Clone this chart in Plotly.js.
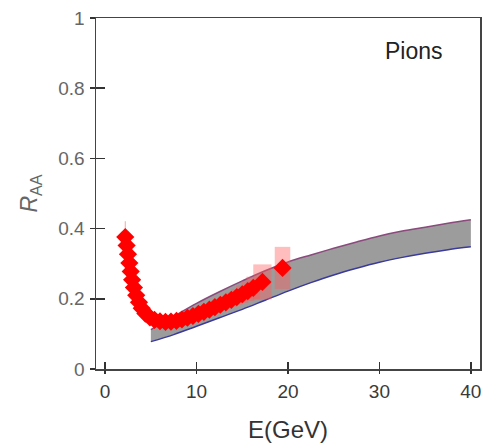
<!DOCTYPE html>
<html>
<head>
<meta charset="utf-8">
<script src="https://cdn.plot.ly/plotly-3.0.1.min.js"></script>
<style>html,body{margin:0;padding:0;background:#fff;}#chart{width:485px;height:448px;}</style>
</head>
<body>
<div id="chart"></div>
<script>
// Theory band (energy in GeV, lower and upper R_AA)
const bandE     = [5, 7.5, 10, 12.5, 15, 17.5, 20, 22.5, 25, 27.5, 30, 32.5, 35, 37.5, 40];
const bandUpper = [0.112, 0.150, 0.187, 0.220, 0.251, 0.280, 0.305, 0.325, 0.344, 0.362, 0.379, 0.393, 0.404, 0.415, 0.425];
const bandLower = [0.078, 0.098, 0.122, 0.146, 0.170, 0.196, 0.222, 0.246, 0.268, 0.287, 0.304, 0.318, 0.330, 0.340, 0.348];

// Data points (pions)
const dataE   = [2.2, 2.35, 2.5, 2.65, 2.8, 2.95, 3.15, 3.4, 3.7, 4.0, 4.4, 4.9, 5.4, 6.0, 6.6, 7.2, 7.8, 8.4, 9.0, 9.6, 10.2, 10.8, 11.4, 12.0, 12.6, 13.2, 13.8, 14.4, 15.0, 15.6, 16.2, 17.2, 19.4];
const dataRAA = [0.376, 0.352, 0.327, 0.302, 0.278, 0.254, 0.232, 0.210, 0.190, 0.173, 0.158, 0.147, 0.140, 0.136, 0.134, 0.135, 0.137, 0.141, 0.146, 0.151, 0.157, 0.163, 0.169, 0.176, 0.183, 0.190, 0.197, 0.205, 0.213, 0.222, 0.231, 0.248, 0.288];
const statErr = [0.045, 0.02, 0.02, 0.02, 0.02, 0.02, 0.02, 0.02, 0.02, 0.02, 0.02, 0.02, 0.02, 0.02, 0.02, 0.02, 0.02, 0.02, 0.02, 0.02, 0.02, 0.02, 0.02, 0.02, 0.02, 0.02, 0.02, 0.02, 0.02, 0.02, 0.02, 0.02, 0.02];
const sysErr  = [0, 0, 0, 0, 0, 0, 0, 0, 0, 0, 0, 0, 0, 0, 0, 0, 0, 0, 0, 0, 0, 0, 0, 0, 0, 0, 0.02, 0.022, 0.025, 0.028, 0.032, 0.05, 0.06];
const sysHalfWidth = [0, 0, 0, 0, 0, 0, 0, 0, 0, 0, 0, 0, 0, 0, 0, 0, 0, 0, 0, 0, 0, 0, 0, 0, 0, 0, 0.6, 0.6, 0.65, 0.7, 0.75, 1.0, 0.85];

const xTicks = [0, 10, 20, 30, 40];
const yTicks = [0, 0.2, 0.4, 0.6, 0.8, 1];
const yTickText = ['0', '0.2', '0.4', '0.6', '0.8', '1'];
const label = 'Pions';

const FONT = 'Liberation Sans, Arial, sans-serif';
const traces = [];

// band lower edge
traces.push({x: bandE, y: bandLower, mode: 'lines', line: {color: '#3a3a9a', width: 1.5, shape: 'spline'}, hoverinfo: 'skip', showlegend: false});
// band upper edge filled to lower
traces.push({x: bandE, y: bandUpper, mode: 'lines', fill: 'tonexty', fillcolor: '#9c9c9c', line: {color: '#8a4a7c', width: 1.5, shape: 'spline'}, hoverinfo: 'skip', showlegend: false});

// systematic boxes
for (let i = 0; i < dataE.length; i++) {
  if (sysErr[i] <= 0) continue;
  const x0 = dataE[i] - sysHalfWidth[i], x1 = dataE[i] + sysHalfWidth[i];
  const y0 = dataRAA[i] - sysErr[i], y1 = dataRAA[i] + sysErr[i];
  traces.push({x: [x0, x1, x1, x0, x0], y: [y0, y0, y1, y1, y0], mode: 'lines', fill: 'toself',
    fillcolor: 'rgba(255,90,90,0.4)', line: {width: 0, color: 'rgba(0,0,0,0)'}, hoverinfo: 'skip', showlegend: false});
}

// data points
traces.push({x: dataE, y: dataRAA, mode: 'markers', showlegend: false,
  marker: {symbol: 'diamond', size: 14, color: '#ff0000', line: {width: 0}},
  error_y: {type: 'data', array: statErr, visible: true, color: 'rgba(255,120,120,0.7)', thickness: 1, width: 0}});

// dummy trace for overlay axes (crossing ticks)
traces.push({x: [20], y: [0.5], xaxis: 'x2', yaxis: 'y2', mode: 'markers', marker: {size: 1, color: 'rgba(0,0,0,0)'}, hoverinfo: 'skip', showlegend: false});

const layout = {
  width: 485, height: 448,
  margin: {l: 96, r: 5, t: 18, b: 79},
  paper_bgcolor: '#ffffff', plot_bgcolor: '#ffffff',
  font: {family: FONT, color: '#444'},
  showlegend: false,
  xaxis: {
    range: [-1, 41], tickvals: xTicks, ticktext: xTicks.map(String),
    ticks: 'inside', ticklen: 7, tickwidth: 1.5, tickcolor: '#333', ticklabelstandoff: 5,
    showline: true, linecolor: '#444', linewidth: 1.5, mirror: true,
    showgrid: false, zeroline: false,
    tickfont: {size: 19, color: '#3a3a3a', family: FONT},
    title: {text: 'E(GeV)', font: {size: 24, color: '#333', family: FONT}, standoff: 20}
  },
  yaxis: {
    range: [0, 1], tickvals: yTicks, ticktext: yTickText,
    ticks: 'inside', ticklen: 9, tickwidth: 1.5, tickcolor: '#333', ticklabelstandoff: 6,
    showline: true, linecolor: '#444', linewidth: 1.5, mirror: true,
    showgrid: false, zeroline: false,
    tickfont: {size: 19, color: '#666', family: FONT},
    title: {text: '<i>R</i><sub>AA</sub>', font: {size: 23, color: '#666', family: FONT}, standoff: 14}
  },
  xaxis2: {overlaying: 'x', anchor: 'y', side: 'bottom', range: [-1, 41], tickvals: xTicks,
    ticks: 'outside', ticklen: 4, tickwidth: 1.5, tickcolor: '#333', showticklabels: false,
    showline: false, showgrid: false, zeroline: false},
  yaxis2: {overlaying: 'y', anchor: 'x', side: 'left', range: [0, 1], tickvals: yTicks,
    ticks: 'outside', ticklen: 5, tickwidth: 1.5, tickcolor: '#333', showticklabels: false,
    showline: false, showgrid: false, zeroline: false},
  annotations: [{x: 33.8, y: 0.906, xref: 'x', yref: 'y', text: label, showarrow: false,
    font: {size: 23, color: '#222', family: FONT}, xanchor: 'center', yanchor: 'middle'}]
};

Plotly.newPlot('chart', traces, layout, {displayModeBar: false, staticPlot: true});
</script>
</body>
</html>
